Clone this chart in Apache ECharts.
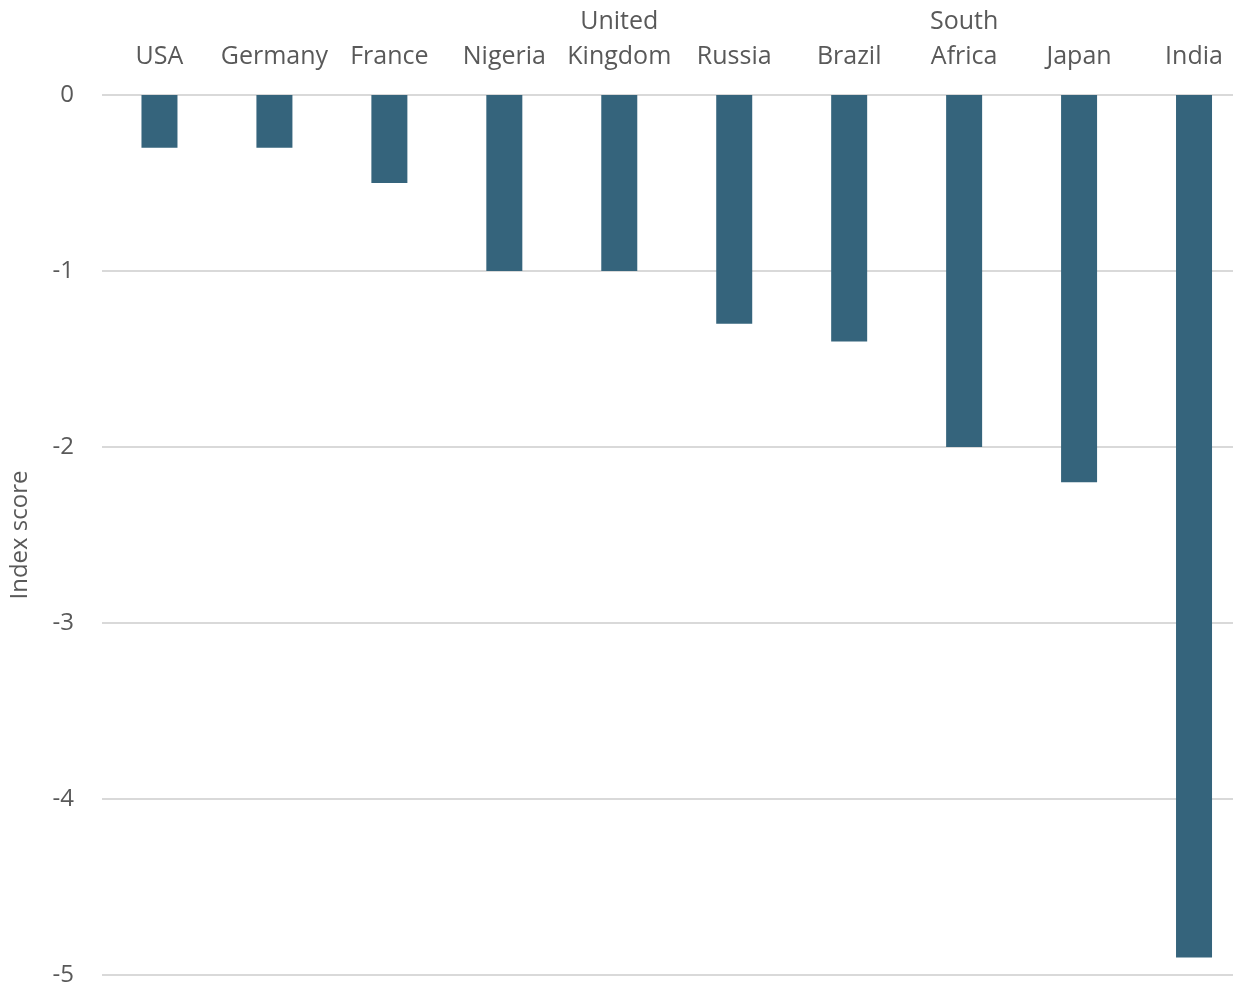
<!DOCTYPE html>
<html>
<head>
<meta charset="utf-8">
<script src="https://cdn.jsdelivr.net/npm/echarts@6/dist/echarts.min.js"></script>
<style>
html,body{margin:0;padding:0;background:#fff;overflow:hidden;width:1233px;height:987px;}
#chart{width:1252px;height:987px;}
</style>
</head>
<body>
<div id="chart"></div>
<script>
const categories = ['USA', 'Germany', 'France', 'Nigeria', 'United\nKingdom', 'Russia', 'Brazil', 'South\nAfrica', 'Japan', 'India'];
const values = [-0.3, -0.3, -0.5, -1.0, -1.0, -1.3, -1.4, -2.0, -2.2, -4.9];
const yTicks = { min: -5, max: 0, interval: 1 };
const yName = 'Index score';

const FONT = '"Open Sans", sans-serif';
const chart = echarts.init(document.getElementById('chart'), null, { renderer: 'canvas' });
chart.setOption({
  animation: false,
  backgroundColor: '#ffffff',
  grid: { left: 101.5, right: 0.5, top: 95, bottom: 12, containLabel: false },
  xAxis: {
    type: 'category',
    position: 'top',
    data: categories,
    axisLine: { show: false },
    axisTick: { show: false },
    axisLabel: {
      color: '#595959',
      fontFamily: FONT,
      fontSize: 25,
      lineHeight: 35,
      margin: 21,
      interval: 0
    }
  },
  yAxis: {
    type: 'value',
    min: yTicks.min,
    max: yTicks.max,
    interval: yTicks.interval,
    name: yName,
    nameLocation: 'middle',
    nameGap: 70,
    nameRotate: 90,
    nameTextStyle: { color: '#595959', fontFamily: FONT, fontSize: 24 },
    axisLine: { show: false },
    axisTick: { show: false },
    axisLabel: { color: '#595959', fontFamily: FONT, fontSize: 24, margin: 28 },
    splitLine: { lineStyle: { color: '#d9d9d9', width: 2 } }
  },
  series: [{
    type: 'bar',
    data: values,
    barWidth: 36,
    itemStyle: { color: '#35647c' }
  }]
});
</script>
</body>
</html>
